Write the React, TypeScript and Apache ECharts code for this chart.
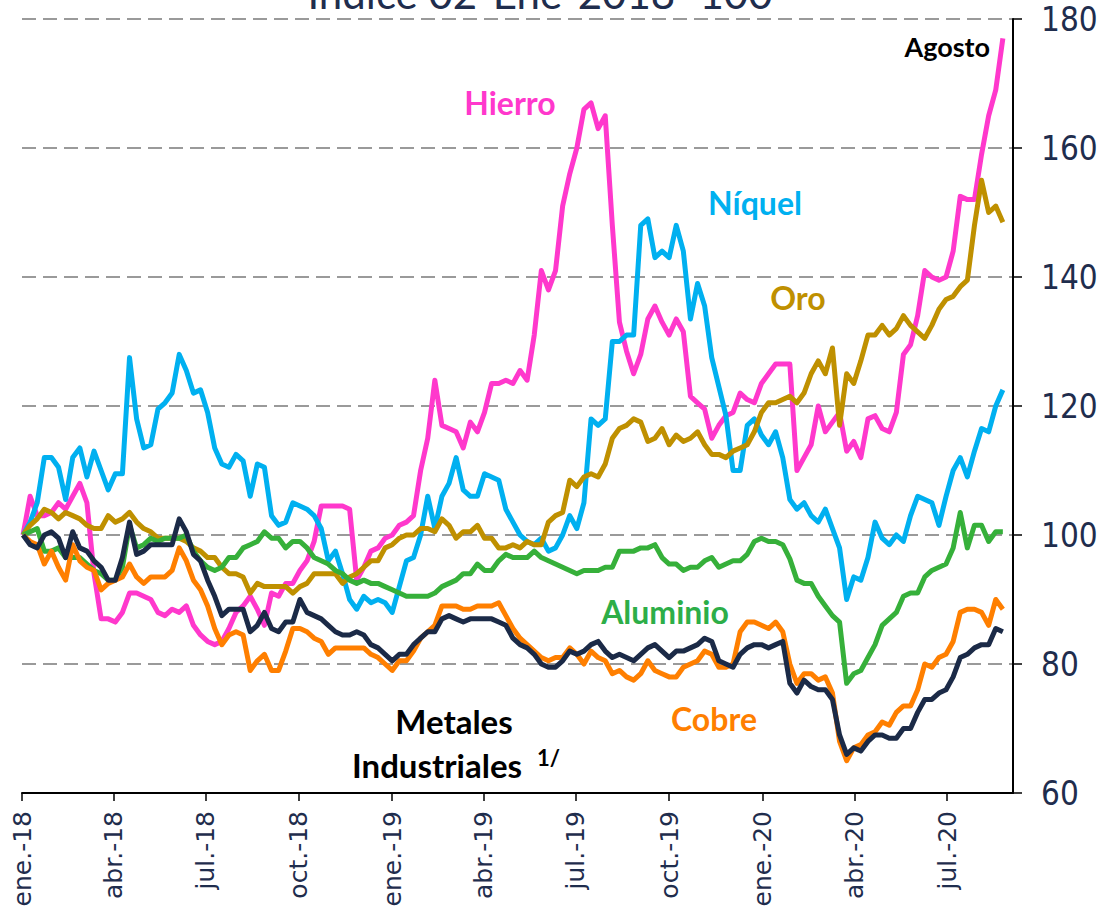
import React, { useEffect, useRef } from "react";
import * as echarts from "echarts";

const dates = [
  "2018-01-02","2018-01-09","2018-01-16","2018-01-23","2018-01-30","2018-02-06","2018-02-13","2018-02-20","2018-02-27","2018-03-06",
  "2018-03-13","2018-03-20","2018-03-27","2018-04-03","2018-04-10","2018-04-17","2018-04-24","2018-05-01","2018-05-08","2018-05-15",
  "2018-05-22","2018-05-29","2018-06-05","2018-06-12","2018-06-19","2018-06-26","2018-07-03","2018-07-10","2018-07-17","2018-07-24",
  "2018-07-31","2018-08-07","2018-08-14","2018-08-21","2018-08-28","2018-09-04","2018-09-11","2018-09-18","2018-09-25","2018-10-02",
  "2018-10-09","2018-10-16","2018-10-23","2018-10-30","2018-11-06","2018-11-13","2018-11-20","2018-11-27","2018-12-04","2018-12-11",
  "2018-12-18","2018-12-25","2019-01-01","2019-01-08","2019-01-15","2019-01-22","2019-01-29","2019-02-05","2019-02-12","2019-02-19",
  "2019-02-26","2019-03-05","2019-03-12","2019-03-19","2019-03-26","2019-04-02","2019-04-09","2019-04-16","2019-04-23","2019-04-30",
  "2019-05-07","2019-05-14","2019-05-21","2019-05-28","2019-06-04","2019-06-11","2019-06-18","2019-06-25","2019-07-02","2019-07-09",
  "2019-07-16","2019-07-23","2019-07-30","2019-08-06","2019-08-13","2019-08-20","2019-08-27","2019-09-03","2019-09-10","2019-09-17",
  "2019-09-24","2019-10-01","2019-10-08","2019-10-15","2019-10-22","2019-10-29","2019-11-05","2019-11-12","2019-11-19","2019-11-26",
  "2019-12-03","2019-12-10","2019-12-17","2019-12-24","2019-12-31","2020-01-07","2020-01-14","2020-01-21","2020-01-28","2020-02-04",
  "2020-02-11","2020-02-18","2020-02-25","2020-03-03","2020-03-10","2020-03-17","2020-03-24","2020-03-31","2020-04-07","2020-04-14",
  "2020-04-21","2020-04-28","2020-05-05","2020-05-12","2020-05-19","2020-05-26","2020-06-02","2020-06-09","2020-06-16","2020-06-23",
  "2020-06-30","2020-07-07","2020-07-14","2020-07-21","2020-07-28","2020-08-04","2020-08-11","2020-08-18","2020-08-25"
];

const hierro = [
  100,106,103,103,103.5,105,104,106,108,105,
  94,87,87,86.5,88,91,91,90.5,90,88,
  87.5,88.5,88,89,86,84.5,83.5,83,83.5,85.5,
  88,89,90.5,88.5,86,91,90.5,92.5,92.5,94.5,
  96,99,104.5,104.5,104.5,104.5,104,93,95,97.5,
  98,99.5,100,101.5,102,103,110,115,124,117,
  116.5,116,113.5,117.5,116,119,123.5,123.5,124,123.5,
  125.5,124,131,141,138,141,151,156,160,166,
  167,163,165,148,133,128.5,125,128,133.5,135.5,
  133,131,133.5,131.5,121.5,120.5,119.5,115,117,118.5,
  119,122,121,120.5,123.5,125,126.5,126.5,126.5,110,
  112,114,120,116,117.5,119,113,114.5,112,118,
  118.5,116.5,116,119,128,129.5,134,141,140,139.5,
  140,144,152.5,152,152,159,165,169,177
];

const niquel = [
  100,102,105,112,112,110.5,105.5,112,113.5,109,
  113,110,107,109.5,109.5,127.5,118,113.5,114,119.5,
  120.5,122,128,125.5,122,122.5,119,113.5,111,110.5,
  112.5,111.5,106,111,110.5,103,101.5,102,105,104.5,
  104,103,101,96,97.5,94,90,88.5,90.5,89.5,
  90,89.5,88,92,96,96.5,100,106,101,106,
  108,112,107,106,106,109.5,109,108.5,104,102,
  100,99,98.5,99.5,97.5,98,100,103,101,105,
  118,117,118,130,130,131,131,148,149,143,
  144,143,148,144,133.5,139,135.5,127.5,123,118.5,
  110,110,117,118,115.5,114,116,112,105.5,104,
  105,103,102,104,101,98,90,93.5,93,96.5,
  102,99.5,98.5,100,99,103,106,105.5,105,101.5,
  106,110,112,109,113,116.5,116,120,122.5
];

const oro = [
  100,101.5,102.5,104,103.5,102.5,103.5,103,102.5,101.5,
  101,101,103,102,102.5,103.5,102,101,100.5,99.5,
  99.5,99.5,99.5,99,98,97.5,96.5,96.5,95,94,
  94,93.5,91,92.5,92,92,92,92,91,92,
  92.5,94,94,94,94,92.5,93.5,94,95,96,
  96,98,98.5,99.5,100,100,101,101,100.5,102.5,
  101.5,99.5,100.5,100.5,101.5,99.5,99.5,98,98,98.5,
  98,99,98.5,98.5,102,103,103.5,108.5,107.5,109,
  109.5,109,111,115,116.5,117,118,117.5,114.5,115,
  116.5,114,115.5,114.5,115,116,114,112.5,112.5,112,
  113,113.5,114,116,119,120.5,120.5,121,121.5,120.5,
  122,125,127,125,129,117,125,123.5,127,131,
  131,132.5,131,132,134,132.5,131.5,130.5,132.5,135,
  136.5,137,138.5,139.5,148,155,150,151,148.5
];

const aluminio = [
  100,100.5,101,97.5,97.5,98,96.5,96.5,96.5,95.5,
  94.5,94,93,93,95,101.5,98,98.5,99.5,99,
  99.5,99.5,99.5,100,97.5,96,95,94.5,95,96.5,
  96.5,98,98.5,99,100.5,99.5,99.5,98,99,99,
  98,96.5,96,95.5,94.5,94,93,92.5,93,92.5,
  92.5,92,91.5,91,90.5,90.5,90.5,90.5,91,92,
  92.5,93,94,94,95.5,94.5,94.5,96,97,96.5,
  96.5,96.5,97.5,96.5,96,95.5,95,94.5,94,94.5,
  94.5,94.5,95,95,97.5,97.5,97.5,98,98,98.5,
  96.5,95.5,95.5,94.5,95,95,96,96.5,95,95.5,
  96,96,97,99,99.5,99,99,98.5,96.3,93,
  92.5,92.5,90.5,89,87.5,86.5,77,78.5,79,81,
  83,86,87,88,90.5,91,91,93.5,94.5,95,
  95.5,98,103.5,98,101.5,101.5,99,100.5,100.5
];

const cobre = [
  100,99,98.5,95.5,97.5,95,93,98.5,96,95,
  94.5,91.5,92.5,93,93.5,95.5,93.5,92.5,93.5,93.5,
  93.5,94.5,98,96,93,91.5,89,85.5,83,84.5,
  85,84.5,79,80.5,81.5,79,79,82,85.5,85.5,
  85,84,83.5,81.5,82.5,82.5,82.5,82.5,82.5,81.5,
  81,80,79,80.5,80.5,82,84,85,86,89,
  89,89,88.5,88.5,89,89,89,89.5,87.5,85.5,
  84,83,82,81,80.5,81,81,82.5,81.5,80,
  82,81,80.5,78.5,79,78,77.5,78.5,80.5,79,
  78.5,78,78,79.5,80,80.5,82,81.5,79.5,79.5,
  80,85,86.5,86.5,86,85.5,86.5,85,80,77,
  78.5,78.5,77.5,78,75.5,68,65,67,67.5,69,
  69.5,71,70.5,72.5,73.5,73.5,76,80,79.5,81,
  81.5,83.5,88,88.5,88.5,88,86,90,88.5
];

const metales = [
  100,98.5,98,100,100.5,99.5,96.5,100.5,98,97.5,
  96,95,93,93,96.5,102,97,97.5,98.5,98.5,
  98.5,98.5,102.5,100.5,97,96,93,90.5,87.5,88.5,
  88.5,88.5,85,86,88,85.5,85,86.5,86.5,90,
  88,87.5,87,86,85,84.5,84.5,85,84.5,83,
  82.5,81.5,80.5,81.5,81.5,83,84,85,85,87,
  87.5,87,86.5,87,87,87,87,86.5,86,84,
  83,82.5,81.5,80,79.5,79.5,80.5,82,81.5,82,
  83,83.5,82,81,81.5,81,80.5,81.5,82.5,83,
  82,81,82,82,82.5,83,84,83.5,80.5,80,
  79.5,81.5,82.5,83,83,82.5,83,83.5,77,75.5,
  77.5,76.5,76,76,74.5,69,66,67,66.5,68,
  69,69,68.5,68.5,70,70,72.5,74.5,74.5,75.5,
  76,78,81,81.5,82.5,83,83,85.5,85
];

const tickDates = [
  "2018-01-01","2018-04-01","2018-07-01","2018-10-01","2019-01-01","2019-04-01",
  "2019-07-01","2019-10-01","2020-01-01","2020-04-01","2020-07-01"
];
const tickLabels = [
  "ene.-18","abr.-18","jul.-18","oct.-18","ene.-19","abr.-19",
  "jul.-19","oct.-19","ene.-20","abr.-20","jul.-20"
];

const axisStart = "2018-01-01";
const axisEnd = "2020-09-04";

function ts(s: string): number {
  const [y, m, d] = s.split("-").map(Number);
  return new Date(y, m - 1, d).getTime();
}

const NAVY = "#1F2D4D";
const LABEL_FONT = "Lato, 'Noto Sans', sans-serif";

export default function App() {
  const ref = useRef<HTMLDivElement>(null);
  useEffect(() => {
    const chart = echarts.init(ref.current!, null, { renderer: "svg" });
    const tickTs = tickDates.map(ts);
    const mk = (name: string, values: number[], color: string, width = 5) => ({
      name,
      type: "line",
      data: dates.map((d, i) => [ts(d), values[i]]),
      showSymbol: false,
      symbol: "none",
      lineStyle: { color, width, join: "round" },
      itemStyle: { color },
      emphasis: { disabled: true },
      silent: true,
    });
    const label = (text: string, x: number, y: number, color: string, size = 32, align = "center") => ({
      type: "text",
      x,
      y,
      silent: true,
      style: {
        text,
        fill: color,
        fontSize: size,
        fontWeight: "bold",
        fontFamily: LABEL_FONT,
        textAlign: align,
        align,
        textVerticalAlign: "middle",
        verticalAlign: "middle",
      },
    });
    chart.setOption({
      animation: false,
      backgroundColor: "#ffffff",
      textStyle: { fontFamily: LABEL_FONT },
      grid: { left: 22, right: 84, top: 19, bottom: 121, containLabel: false, outerBoundsMode: "none" },
      xAxis: {
        type: "value",
        min: ts(axisStart),
        max: ts(axisEnd),
        scale: true,
        axisLine: { show: true, onZero: false, lineStyle: { color: "#000000", width: 2 } },
        axisTick: {
          show: true,
          customValues: tickTs,
          length: 8,
          inside: false,
          lineStyle: { color: "#000000", width: 1.5 },
        },
        axisLabel: {
          show: true,
          customValues: tickTs,
          rotate: 90,
          margin: 18,
          fontFamily: "'DejaVu Sans', sans-serif",
          fontSize: 25,
          color: NAVY,
          formatter: (v: number) => {
            const i = tickTs.findIndex((t) => Math.abs(t - v) < 43200000);
            return i >= 0 ? tickLabels[i] : "";
          },
        },
        splitLine: { show: false },
      },
      yAxis: {
        type: "value",
        position: "right",
        min: 60,
        max: 180,
        interval: 20,
        axisLine: { show: true, lineStyle: { color: "#000000", width: 2 } },
        axisTick: { show: true, length: 9, inside: false, lineStyle: { color: "#000000", width: 1.5 } },
        axisLabel: {
          margin: 28,
          fontFamily: "'Liberation Sans Narrow', 'DejaVu Sans Condensed', sans-serif",
          fontSize: 33,
          color: NAVY,
        },
        splitLine: { show: true, lineStyle: { color: "#9a9a9a", width: 2, type: [14, 7] } },
      },
      series: [
        mk("Hierro", hierro, "#FF38CC"),
        mk("Níquel", niquel, "#00B0F0"),
        mk("Oro", oro, "#BF9000"),
        mk("Aluminio", aluminio, "#36B03A"),
        mk("Cobre", cobre, "#FF7F00"),
        mk("Metales Industriales", metales, "#1B2A47"),
      ],
      graphic: [
        {
          type: "text",
          x: 540,
          y: -7,
          silent: true,
          style: {
            text: "Índice 02-Ene-2018=100",
            fill: NAVY,
            fontSize: 42,
            fontFamily: LABEL_FONT,
            textAlign: "center",
            align: "center",
            textVerticalAlign: "middle",
            verticalAlign: "middle",
          },
        },
        label("Hierro", 510, 102, "#FF38CC"),
        label("Níquel", 755, 202, "#00B0F0"),
        label("Oro", 798, 297, "#BF9000"),
        label("Aluminio", 665, 611, "#2DAE48"),
        label("Cobre", 714, 718, "#FF7F00"),
        label("Metales", 454, 721, "#000000", 33),
        label("Industriales", 437, 765, "#000000", 33),
        label("1/", 537, 757, "#000000", 22, "left"),
        label("Agosto", 990, 46, "#000000", 27, "right"),
      ],
    });
    return () => chart.dispose();
  }, []);
  return (
    <div
      ref={ref}
      style={{ position: "absolute", left: 0, top: 0, width: 1097, height: 914 }}
    />
  );
}
